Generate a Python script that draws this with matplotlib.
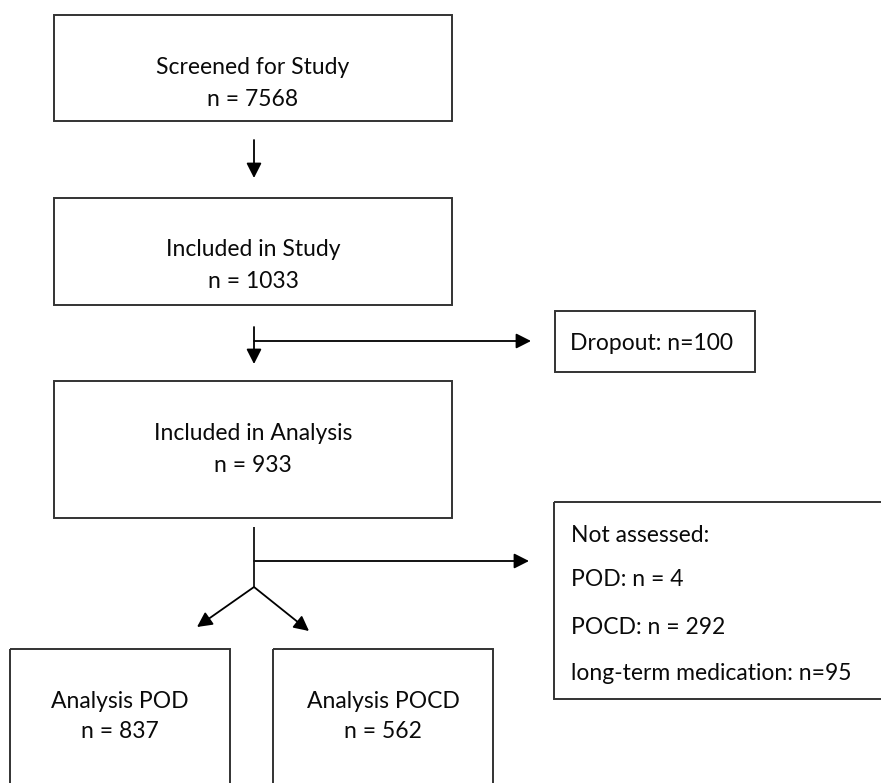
import matplotlib
matplotlib.use("Agg")
import matplotlib.pyplot as plt
from matplotlib.patches import Rectangle, FancyArrowPatch

# ---- data ----
box_titles = ["Screened for Study", "Included in Study", "Included in Analysis",
              "Analysis POD", "Analysis POCD"]
box_counts = [7568, 1033, 933, 837, 562]
dropout_label = "Dropout"
dropout_count = 100
not_assessed_title = "Not assessed:"
not_assessed_items = ["POD", "POCD", "long-term medication"]
not_assessed_counts = [4, 292, 95]
not_assessed_fmt = ["{}: n = {}", "{}: n = {}", "{}: n={}"]

# ---- layout (pixel coordinates, y downward) ----
W, H = 881, 783
main_boxes = [(54, 15, 398, 106), (54, 198, 398, 107), (54, 381, 398, 137),
              (10, 649, 220, 160), (273, 649, 220, 160)]
title_y = [68, 250, 433, 702, 702]
count_y = [99, 281, 465, 732, 732]
dropout_box = (555, 311, 200, 61)
na_box = (554, 502, 340, 197)
na_text_x = 571
na_text_y = [535, 580, 627, 673]

FONT = "Lato"
FS = 16.5
EDGE = "#333333"
TXT = "#0a0a0a"

fig = plt.figure(figsize=(W / 100, H / 100), dpi=100)
ax = fig.add_axes([0, 0, 1, 1])
ax.set_xlim(0, W)
ax.set_ylim(H, 0)
ax.axis("off")

def box(x, y, w, h):
    ax.add_patch(Rectangle((x, y), w, h, fill=False, edgecolor=EDGE, lw=1.4))

def arrow(p0, p1):
    ax.add_patch(FancyArrowPatch(p0, p1, arrowstyle="-|>,head_length=0.75,head_width=0.38",
                                 mutation_scale=12, color="black", lw=1.3,
                                 shrinkA=0, shrinkB=0))

def line(xs, ys):
    ax.plot(xs, ys, color="#111111", lw=1.3, solid_capstyle="butt")

for (x, y, w, h), t, c, ty, cy in zip(main_boxes, box_titles, box_counts, title_y, count_y):
    box(x, y, w, h)
    cx = x + w / 2
    ax.text(cx, ty, t, ha="center", va="center", fontsize=FS, family=FONT, color=TXT)
    ax.text(cx, cy, f"n = {c}", ha="center", va="center", fontsize=FS, family=FONT, color=TXT)

# dropout
box(*dropout_box)
ax.text(570, 344, f"{dropout_label}: n={dropout_count}", ha="left", va="center",
        fontsize=FS, family=FONT, color=TXT)

# not assessed
box(*na_box)
ax.text(na_text_x, na_text_y[0], not_assessed_title, ha="left", va="center",
        fontsize=FS, family=FONT, color=TXT)
for item, cnt, fmt, yy in zip(not_assessed_items, not_assessed_counts, not_assessed_fmt, na_text_y[1:]):
    ax.text(na_text_x, yy, fmt.format(item, cnt), ha="left", va="center",
            fontsize=FS, family=FONT, color=TXT)

# connectors
cx = 254
arrow((cx, 140), (cx, 178))
arrow((cx, 327), (cx, 364))
arrow((cx, 341), (531, 341))
line([cx, cx], [527, 587])
arrow((cx, 561), (529, 561))
arrow((cx, 587), (197, 627))
arrow((cx, 587), (309, 631))

fig.savefig("out.png", dpi=100, facecolor="white")
